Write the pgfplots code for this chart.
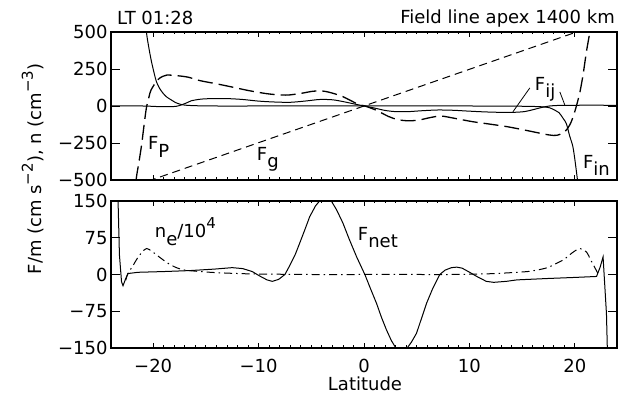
\documentclass[border=0pt]{standalone}
\usepackage{fontspec}
\setmainfont{DejaVu Sans}
\usepackage{pgfplots}
\pgfplotsset{compat=1.18}

\newcommand{\lo}[1]{\raisebox{-0.4em}{#1}}
\newcommand{\hi}[1]{\raisebox{0.5em}{\fontsize{15}{15}\selectfont #1}}

\pgfplotsset{idl/.style={
  scale only axis, width=506pt,
  xmin=-24, xmax=24,
  axis line style={line width=1.2pt},
  tick align=inside, tick style={black, line width=0.8pt},
  xtick={-20,-10,...,20}, minor x tick num=9,
  major tick length=5pt, minor tick length=2.5pt,
  ytick=\empty,
  extra y tick style={major tick length=9pt},
  xticklabel style={yshift=-8pt},
}}

\begin{document}
\begin{tikzpicture}[font=\fontsize{18}{21}\selectfont]
\path[use as bounding box] (-111pt,-58pt) rectangle (513pt,348pt);

% upper panel: forces
\begin{axis}[idl, at={(0,168pt)}, anchor=south west, height=148pt,
  ymin=-500, ymax=500, xticklabels={},
  extra y ticks={-500,-250,0,250,500},
  extra y tick labels={−500,−250,0,250,500}]

% F_g
\addplot[black, line width=1pt, dash pattern=on 8pt off 5pt] coordinates {
(-24,-595) (24,595)};

% F_P
\addplot[black, line width=1.3pt, smooth, dash pattern=on 15pt off 6pt] coordinates {
(-21.8,-650) (-21.6,-489) (-21.35,-380) (-21.1,-264) (-20.9,-150) (-20.65,-16)
(-20.4,60) (-20.2,108) (-19.6,175) (-19.1,200) (-18.7,209) (-17.9,206)
(-16.7,195) (-15.6,172) (-14,150) (-12.5,128) (-11,105) (-9.3,84) (-8.2,76)
(-7.2,74) (-6,85) (-4.8,100) (-3.8,100) (-2.8,83) (-2,63) (-1.35,40)
(-0.5,10) (0.1,0) (1.2,-30) (2.3,-70) (3.2,-92) (4.2,-100) (5.2,-95)
(6.3,-78) (7.3,-68) (8.5,-82) (10.3,-106) (12,-123) (13.6,-140) (15.2,-162)
(16.7,-184) (17.6,-196) (18.3,-198) (19.05,-174) (19.5,-130) (19.8,-81)
(20.15,0) (20.5,100) (20.8,220) (21.1,367) (21.42,500) (21.6,620)};

% F_in
\addplot[black, line width=1pt, smooth] coordinates {
(-20.9,700) (-20.64,500) (-20.4,390) (-20.16,300) (-19.9,220) (-19.69,164)
(-19.4,120) (-19.06,86) (-18.7,60) (-18.26,40) (-17.9,24) (-17.48,13)
(-17,6) (-16,2) (-14,0) (-10,0) (0,0) (10,0) (14,-1) (16,-3) (17,-6)
(17.6,-12) (18.1,-28) (18.5,-45) (18.9,-85) (19.2,-120) (19.5,-200)
(19.8,-270) (20.0,-360) (20.25,-500) (20.4,-600)};

% F_ij
\addplot[black, line width=1pt, smooth] coordinates {
(-24,1) (-21,0) (-19.5,-4) (-18.5,-5) (-17.8,-2) (-17.3,8) (-16.8,22)
(-16.4,35) (-15.5,46) (-14.5,50) (-13,50) (-11.5,44) (-10,33) (-8.5,27)
(-7,25) (-5.5,34) (-4.2,44) (-3,42) (-2,30) (-1,15) (0,0) (1,-14) (2,-30)
(3,-38) (4.2,-38) (5.5,-32) (7,-27) (8.5,-29) (9.75,-34) (11.5,-40)
(13,-43) (14.1,-43) (15.2,-38) (16.2,-22) (16.9,-9) (17.6,0) (18.5,4)
(20,5) (24,5)};

\node[anchor=base west, inner sep=0] at (axis cs:-20.5,-297) {F\lo{P}};
\node[anchor=base west, inner sep=0] at (axis cs:-10.17,-365) {F\lo{g}};
\node[anchor=base west, inner sep=0] at (axis cs:16.2,108) {F\lo{ij}};
\node[anchor=base west, inner sep=0] at (axis cs:20.76,-419) {F\lo{in}};
\draw[line width=0.8pt] (axis cs:15.73,122) -- (axis cs:14.12,-40);
\draw[line width=0.8pt] (axis cs:18.58,95) -- (axis cs:19.05,7);
\end{axis}

% lower panel: net force and density
\begin{axis}[idl, at={(0,0)}, anchor=south west, height=147pt,
  ymin=-150, ymax=150,
  xticklabels={−20,−10,0,10,20},
  extra y ticks={-150,-75,0,75,150},
  extra y tick labels={−150,−75,0,75,150}]

% n_e / 1e4
\addplot[black, line width=1pt, smooth, dash pattern=on 8pt off 4pt on 1.5pt off 4pt] coordinates {
(-22.6,-12) (-22.4,2) (-22,15) (-21.5,33) (-21,47) (-20.6,53) (-20.1,47)
(-19.5,37) (-18.6,23) (-17.8,14) (-17,9) (-15.5,6) (-14.2,4) (-12,2)
(-10,1) (-5,0) (0,0) (5,0) (8,0) (11,1) (12.5,2) (14.15,4) (15.5,6)
(16.4,9) (17.4,14) (18.3,23) (19,31) (19.5,40) (20,48) (20.5,53) (21.1,46)
(21.5,30) (21.8,18) (22.2,2) (22.4,-3)};

% F_net
\addplot[black, line width=1pt] coordinates {
(-23.38,900) (-23.33,150) (-23.2,40) (-23.0,-15) (-22.86,-23) (-22.6,-8)
(-22.38,2) (-21.43,4.5) (-19,6) (-16.5,8) (-14.2,11) (-12.5,14) (-11.5,12)
(-10.6,6) (-9.9,-3) (-9.2,-11) (-8.7,-14) (-8.1,-10) (-7.5,0) (-7.0,20)
(-6.5,42) (-6.1,64) (-5.6,92) (-5.15,118) (-4.6,140) (-4.1,153) (-3.6,157)
(-3.1,150) (-2.6,132) (-2,105) (-1.4,72) (-0.7,36) (0.08,0) (0.6,-28)
(1.19,-59) (1.65,-87) (2.13,-113) (2.6,-135) (3.08,-152) (3.55,-162)
(4.03,-152) (4.5,-138) (4.98,-120) (5.45,-90) (5.93,-59) (6.53,-28)
(7.19,0) (7.7,9) (8.3,14) (8.8,15) (9.3,13) (9.9,6) (10.7,-4) (11.6,-14)
(12.3,-16) (13.5,-14) (14.5,-11) (17.6,-8) (20,-6) (22.06,-4) (22.4,15)
(22.68,36) (23.0,-80) (23.2,-250)};

\node[anchor=base west, inner sep=0] at (axis cs:-19.85,74.5) {n\lo{e}/10\hi{4}};
\node[anchor=base west, inner sep=0] at (axis cs:-0.59,70.4) {F\lo{net}};
\end{axis}

% texts outside the axes
\node[anchor=base west, inner sep=0] at (6pt,323pt) {LT 01:28};
\node[anchor=base east, inner sep=0] at (504pt,324pt) {Field line apex 1400 km};
\node[anchor=base, inner sep=0] at (254pt,-43pt) {Latitude};
\node[rotate=90, inner sep=0] at (-78pt,179pt) {F/m (cm s\hi{−2}), n (cm\hi{−3})};
\end{tikzpicture}
\end{document}
